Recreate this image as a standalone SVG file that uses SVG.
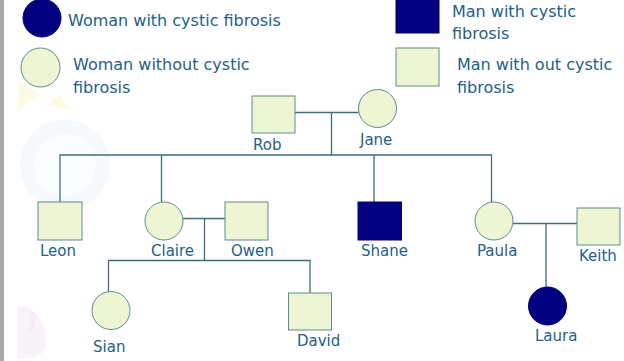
<svg xmlns="http://www.w3.org/2000/svg" width="624" height="361" viewBox="0 0 624 361">
<style>
.lt{fill:#eef5d3;stroke:#5e8a90;stroke-width:1}
.dk{fill:#000080;stroke:#000070;stroke-width:1}
.ln{fill:none;stroke:#3d6e7a;stroke-width:1.3}
text{font-family:"DejaVu Sans","Liberation Sans",sans-serif;fill:#23608a}
.lg{font-size:16px}
.nm{font-size:15px}
</style>
<rect x="0" y="0" width="624" height="361" fill="#ffffff"/>
<g id="background" opacity="0.35">
<rect x="0" y="0" width="4" height="361" fill="#111111"/>
<path d="M40 95 L18 110 L18 80 Z" fill="#fbf3b0"/>
<path d="M60 95 L70 110 L48 104 Z" fill="#fbf3b0"/>
<circle cx="65" cy="165" r="38" fill="#f2f8fc" stroke="#e3eff8" stroke-width="14"/>
<path d="M17 305 Q45 310 46 340 Q46 356 30 358 L17 358 Z" fill="#efdcf6"/>
<path d="M30 330 Q36 320 32 312" fill="none" stroke="#e2c8f0" stroke-width="4"/>
</g>
<g id="legend">
<g id="legend-woman-cf">
<circle class="dk" cx="42" cy="18" r="19"/>
<text class="lg" x="68" y="26">Woman with cystic fibrosis</text>
</g>
<g id="legend-woman">
<circle class="lt" cx="40.5" cy="67.5" r="19.5"/>
<text class="lg" x="73" y="70">Woman without cystic</text>
<text class="lg" x="73" y="93">fibrosis</text>
</g>
<g id="legend-man-cf">
<rect class="dk" x="396" y="0" width="43" height="33"/>
<text class="lg" x="452" y="17">Man with cystic</text>
<text class="lg" x="452" y="39">fibrosis</text>
</g>
<g id="legend-man">
<rect class="lt" x="396" y="48" width="43" height="38"/>
<text class="lg" x="457" y="70">Man with out cystic</text>
<text class="lg" x="457" y="93">fibrosis</text>
</g>
</g>
<g id="connectors">
<path class="ln" d="M295 112.5 H358.5"/>
<path class="ln" d="M331.5 112.5 V155"/>
<path class="ln" d="M60 202 V155 H491.5 V202"/>
<path class="ln" d="M161.5 155 V202"/>
<path class="ln" d="M374 155 V202"/>
<path class="ln" d="M183 218.5 H225"/>
<path class="ln" d="M204.5 218.5 V260.5"/>
<path class="ln" d="M108.5 291.5 V260.5 H310 V293"/>
<path class="ln" d="M513 223.5 H577"/>
<path class="ln" d="M546 223.5 V287"/>
</g>
<g id="rob">
<rect class="lt" x="252" y="96" width="43" height="37"/>
<text class="nm" x="253" y="150">Rob</text>
</g>
<g id="jane">
<circle class="lt" cx="377.5" cy="108.5" r="19"/>
<text class="nm" x="360" y="145">Jane</text>
</g>
<g id="leon">
<rect class="lt" x="38" y="202" width="44" height="38"/>
<text class="nm" x="40" y="256">Leon</text>
</g>
<g id="claire">
<circle class="lt" cx="164" cy="221" r="19"/>
<text class="nm" x="151" y="256">Claire</text>
</g>
<g id="owen">
<rect class="lt" x="225" y="202" width="43" height="38"/>
<text class="nm" x="231" y="256">Owen</text>
</g>
<g id="shane">
<rect class="dk" x="358" y="202" width="43.5" height="38"/>
<text class="nm" x="361" y="256">Shane</text>
</g>
<g id="paula">
<circle class="lt" cx="494" cy="221" r="19"/>
<text class="nm" x="477" y="256">Paula</text>
</g>
<g id="keith">
<rect class="lt" x="577" y="208" width="43" height="37"/>
<text class="nm" x="579" y="261">Keith</text>
</g>
<g id="sian">
<circle class="lt" cx="111" cy="310.5" r="19"/>
<text class="nm" x="93" y="352">Sian</text>
</g>
<g id="david">
<rect class="lt" x="288.5" y="293" width="43" height="37"/>
<text class="nm" x="297" y="346">David</text>
</g>
<g id="laura">
<circle class="dk" cx="547.5" cy="306" r="19"/>
<text class="nm" x="535" y="341">Laura</text>
</g>
</svg>
